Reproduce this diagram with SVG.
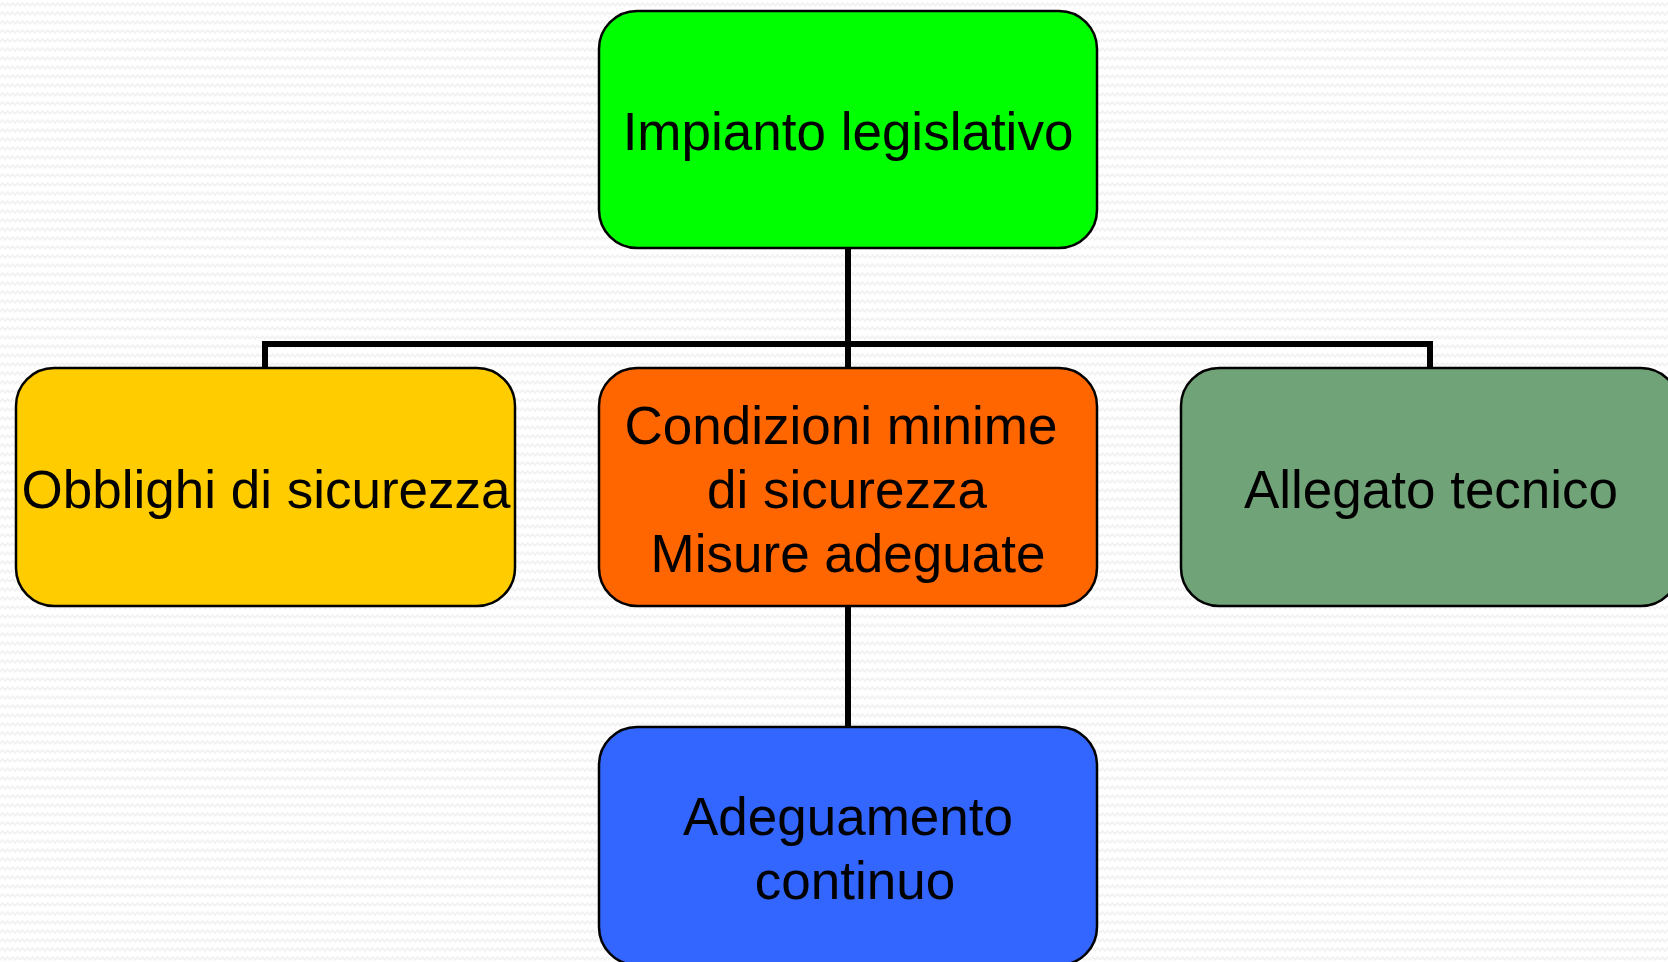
<svg xmlns="http://www.w3.org/2000/svg" width="1668" height="962" viewBox="0 0 1668 962">
<defs>
<pattern id="bg" width="10" height="9" patternUnits="userSpaceOnUse">
<rect width="10" height="9" fill="#ffffff"/>
<path d="M0 6 L2.5 3 L5 6 L7.5 3 L10 6" fill="none" stroke="#f1f1f1" stroke-width="1.6"/>
</pattern>
</defs>
<style>
.box{stroke:#000;stroke-width:2.5}
.t{font-family:"Liberation Sans",Arial,sans-serif;font-size:53px;fill:#000;text-anchor:middle}
.c{fill:none;stroke:#000;stroke-width:6}
</style>
<rect width="1668" height="962" fill="url(#bg)"/>
<g id="connectors">
<path class="c" d="M848 248 V344"/>
<path class="c" d="M265 368 V344 H1430 V368"/>
<path class="c" d="M848 344 V368"/>
<path class="c" d="M848 606 V727"/>
</g>
<g id="impianto">
<rect class="box" x="599" y="11" width="498" height="237" rx="38" fill="#00FF00"/>
<text class="t" x="848" y="150">Impianto legislativo</text>
</g>
<g id="obblighi">
<rect class="box" x="16" y="368" width="499" height="238" rx="38" fill="#FFCC00"/>
<text class="t" x="266" y="508">Obblighi di sicurezza</text>
</g>
<g id="condizioni">
<rect class="box" x="599" y="368" width="498" height="238" rx="38" fill="#FF6600"/>
<text class="t" x="841" y="444">Condizioni minime</text>
<text class="t" x="847" y="508">di sicurezza</text>
<text class="t" x="848" y="572">Misure adeguate</text>
</g>
<g id="allegato">
<rect class="box" x="1181" y="368" width="498" height="238" rx="38" fill="#71A379"/>
<text class="t" x="1431" y="508">Allegato tecnico</text>
</g>
<g id="adeguamento">
<rect class="box" x="599" y="727" width="498" height="238" rx="38" fill="#3366FF"/>
<text class="t" x="848" y="835">Adeguamento</text>
<text class="t" x="855" y="899">continuo</text>
</g>
</svg>
